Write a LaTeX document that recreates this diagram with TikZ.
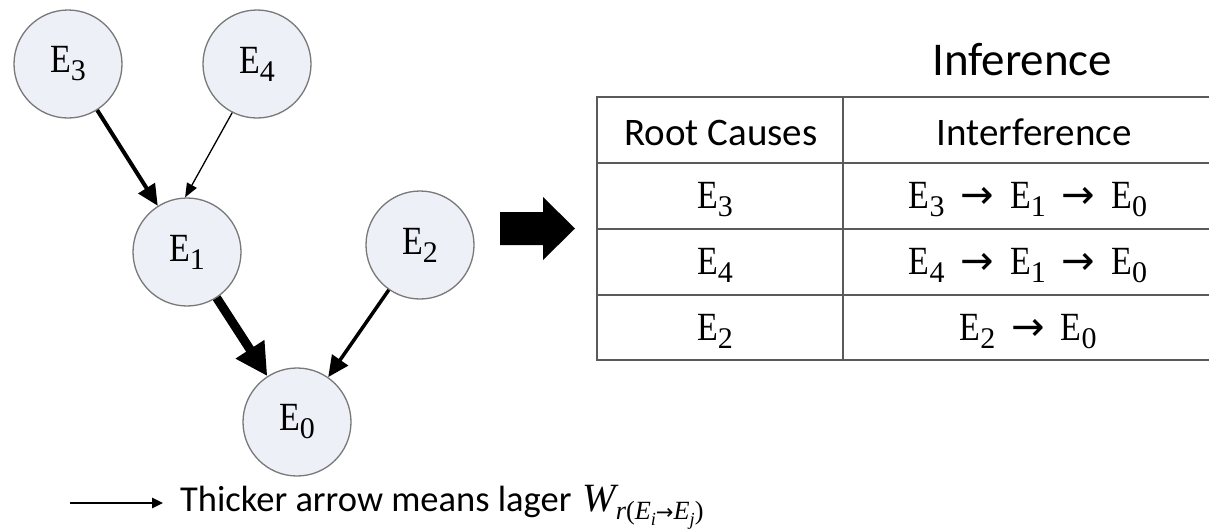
\documentclass[tikz,border=0pt]{standalone}
\usepackage{fontspec}
\setmainfont{Carlito}
\newfontfamily\ser{Liberation Serif}
\newfontfamily\arrfont{DejaVu Sans}
\usetikzlibrary{arrows.meta}
\definecolor{nodefill}{RGB}{238,240,247}
\definecolor{nodeline}{RGB}{120,120,120}
\definecolor{tabline}{RGB}{90,90,90}
\newcommand\Es[1]{\scalebox{0.85}[1]{E}\raisebox{-0.2em}{\scalebox{0.75}{#1}}}
\newcommand\ra{\hspace{0.4em}{\arrfont →}\hspace{0.4em}}
\begin{document}
\begin{tikzpicture}[x=1pt,y=-1pt,
  ev/.style={circle, draw=nodeline, line width=1.3pt, fill=nodefill,
    minimum size=108pt, inner sep=0pt, font=\fontsize{40}{44}\selectfont\ser},
  tab/.style={draw=tabline, line width=2pt},
  cell/.style={inner sep=0pt, anchor=base, font=\fontsize{40}{44}\selectfont\ser},
  head/.style={inner sep=0pt, anchor=base, font=\fontsize{39}{44}\selectfont},
  ar/.style={draw=black}
]
\useasboundingbox (0,0) rectangle (1209,531);

% graph nodes
\node[ev] (e3) at (68,64) {\Es{3}};
\node[ev] (e4) at (257,64) {\Es{4}};
\node[ev] (e1) at (187,252) {\Es{1}};
\node[ev] (e2) at (420,245) {\Es{2}};
\node[ev] (e0) at (297,422) {\Es{0}};

% edges
\draw[ar, line width=4pt, -{Triangle[length=21pt,width=19pt]}] (e3) -- (e1);
\draw[ar, line width=1.3pt, -{Triangle[length=14pt,width=11pt]}] (e4.243) -- (e1.92);
\draw[ar, line width=9pt, -{Triangle[length=32pt,width=32pt]}] (e1) -- (e0);
\draw[ar, line width=3.5pt, -{Triangle[length=21pt,width=19pt]}] (e2) -- (e0);

% big arrow
\fill (500,212) -- (543,212) -- (543,197) -- (575,228.5) -- (543,260) -- (543,245) -- (500,245) -- cycle;

% title
\node[inner sep=0pt, anchor=base west, font=\fontsize{47}{50}\selectfont] (title) at (932,75) {Inference};

% table
\draw[tab] (597,97) -- (1209,97);
\draw[tab] (597,163) -- (1209,163);
\draw[tab] (597,229) -- (1209,229);
\draw[tab] (597,295) -- (1209,295);
\draw[tab] (597,360) -- (1209,360);
\draw[tab] (597,96) -- (597,361);
\draw[tab] (843,96) -- (843,361);

\node[head] (h1) at (721,145) {Root Causes};
\node[head] (h2) at (1034,145) {Interference};
\node[cell] (r1a) at (715,208) {\Es{3}};
\node[cell] (r1b) at (1028,208) {\Es{3}\ra\Es{1}\ra\Es{0}};
\node[cell] (r2a) at (715,274) {\Es{4}};
\node[cell] (r2b) at (1028,274) {\Es{4}\ra\Es{1}\ra\Es{0}};
\node[cell] (r3a) at (715,340) {\Es{2}};
\node[cell] (r3b) at (1028,340) {\Es{2}\ra\Es{0}};

% legend
\coordinate (la) at (70,503);
\coordinate (lb) at (163,503);
\draw[ar, line width=2.5pt, -{Triangle[length=11pt,width=10pt]}] (la) -- (lb);
\node[anchor=base west, inner sep=0pt, font=\fontsize{36.5}{40}\selectfont] (leg) at (180,511)
  {Thicker arrow means lager\hspace{0.3em}{\ser\itshape \scalebox{1.1}{W}\raisebox{-0.24em}{\scalebox{0.72}{r\upshape(\itshape E\raisebox{-0.22em}{\scalebox{0.7}{i}}{\upshape\arrfont\scalebox{0.8}{→}}\itshape E\raisebox{-0.22em}{\scalebox{0.7}{j}}\upshape)}}}};
\end{tikzpicture}
\end{document}
